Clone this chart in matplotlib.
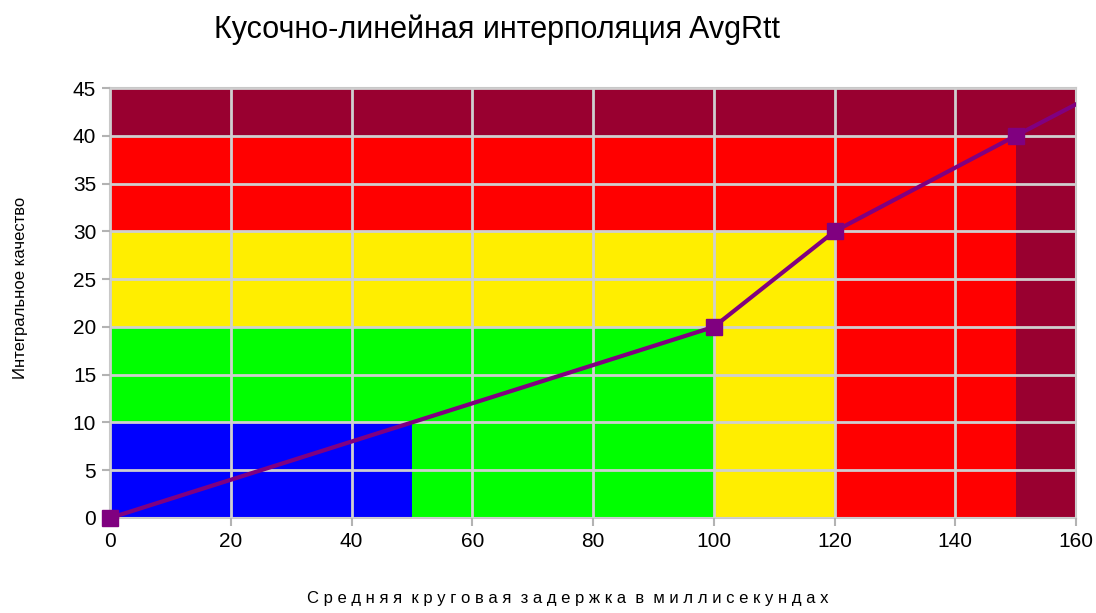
import numpy as np
import matplotlib.pyplot as plt

plt.rcParams['font.family'] = ['Liberation Sans', 'DejaVu Sans']

# зоны качества: граница по x, граница по y, цвет
zone_x = [160, 150, 120, 100, 50]
zone_y = [45, 40, 30, 20, 10]
zone_colors = ['#990030', '#ff0000', '#ffee00', '#00ff00', '#0000ff']

# узлы интерполяции AvgRtt
rtt = [0, 100, 120, 150]
quality = [0, 20, 30, 40]
# продолжение последнего отрезка до края графика
rtt_tail = [150, 160]
quality_tail = [40, 43.3]

fig = plt.figure(figsize=(10.96, 6.13), dpi=100)
ax = fig.add_axes([0.1004, 0.155, 0.8814, 0.7014])

for xr, yr, c in zip(zone_x, zone_y, zone_colors):
    ax.bar(0, yr, width=xr, align='edge', color=c, linewidth=0, zorder=1)

ax.set_axisbelow(False)
ax.grid(True, color='#cfcfcf', linewidth=2)

ax.plot(rtt_tail, quality_tail, color='#800080', linewidth=3, zorder=4)
ax.plot(rtt, quality, color='#800080', linewidth=3, marker='s',
        markersize=12, zorder=5, clip_on=False)

ax.set_xlim(0, 160)
ax.set_ylim(0, 45)
ax.set_xticks(np.arange(0, 161, 20))
ax.set_yticks(np.arange(0, 46, 5))
ax.tick_params(labelsize=15, color='#b3b3b3', length=6, width=1.5, pad=4)
for s in ax.spines.values():
    s.set_color('#c8c8c8')
    s.set_linewidth(1.5)

fig.text(0.4535, 0.951, 'Кусочно-линейная интерполяция AvgRtt',
         ha='center', va='center', fontsize=22)
fig.text(0.518, 0.012, 'С р е д н я я  к р у г о в а я  з а д е р ж к а  в  м и л л и с е к у н д а х',
         ha='center', va='bottom', fontsize=12)
fig.text(0.019, 0.53, 'Интегральное качество', rotation=90,
         ha='center', va='center', fontsize=12)

fig.savefig('out.png', dpi=100)
